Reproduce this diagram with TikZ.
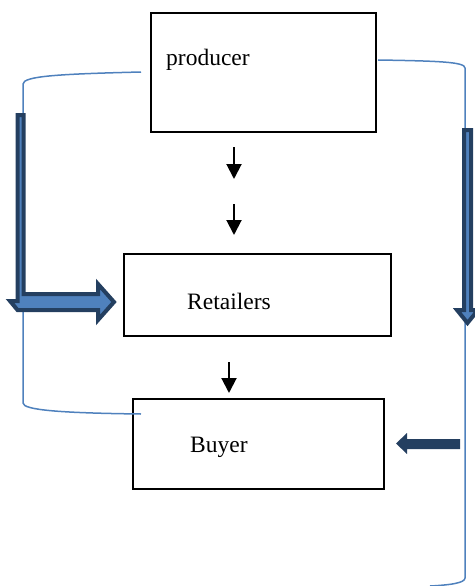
\documentclass[tikz,border=0pt]{standalone}
\usepackage{fontspec}
\setmainfont{Liberation Serif}
\usetikzlibrary{arrows.meta}
\definecolor{thinblue}{HTML}{4F81BD}
\definecolor{navy}{HTML}{243F60}
\begin{document}
\begin{tikzpicture}[x=1pt,y=-1pt,
  box/.style={draw=black,line width=2pt},
  lbl/.style={anchor=base west,inner sep=0pt,font=\fontsize{23.5}{26}\selectfont},
  smallarrow/.style={line width=2pt,-{Triangle[width=15pt,length=15pt]}},
  bracket/.style={draw=thinblue,line width=1.5pt},
  fatarrow/.style={fill=thinblue,draw=navy,line width=4pt,line join=miter}]
\useasboundingbox (0,0) rectangle (474,586);
% boxes
\draw[box] (151,13) rectangle (376,132);
\draw[box] (124,254) rectangle (391,336);
\draw[box] (133,399) rectangle (384,489);
\node[lbl] (producer) at (166,66) {producer};
\node[lbl] (retailers) at (187,309) {Retailers};
\node[lbl] (buyer) at (190,452) {Buyer};
% small arrows
\coordinate (a1s) at (234,147); \coordinate (a1e) at (234,179);
\coordinate (a2s) at (234,204); \coordinate (a2e) at (234,235);
\coordinate (a3s) at (229,362); \coordinate (a3e) at (229,393);
\draw[smallarrow] (a1s) -- (a1e);
\draw[smallarrow] (a2s) -- (a2e);
\draw[smallarrow] (a3s) -- (a3e);
% thin brackets
\draw[bracket] (141,72) .. controls (60,74) and (23,76) .. (23,84) -- (23,403) .. controls (23,410) and (60,413) .. (141,414);
\draw[bracket] (378,60) .. controls (440,61) and (465,62) .. (465,68) -- (465,578) .. controls (465,583) and (450,585) .. (430,586);
% left L arrow
\draw[fatarrow] (17.5,115) -- (23.5,115) -- (23.5,294) -- (98,294) -- (98,284) -- (114,302) -- (98,320) -- (98,310) -- (17.5,310) -- (10,301) -- (17.5,301) -- cycle;
% right down arrow
\draw[fatarrow] (464,130) -- (471,130) -- (471,310) -- (478,310) -- (467.5,323) -- (457,310) -- (464,310) -- cycle;
% buyer arrow
\fill[navy] (460,439) -- (407,439) -- (407,433) -- (396,443.5) -- (407,454) -- (407,449) -- (460,449) -- cycle;
\end{tikzpicture}
\end{document}
